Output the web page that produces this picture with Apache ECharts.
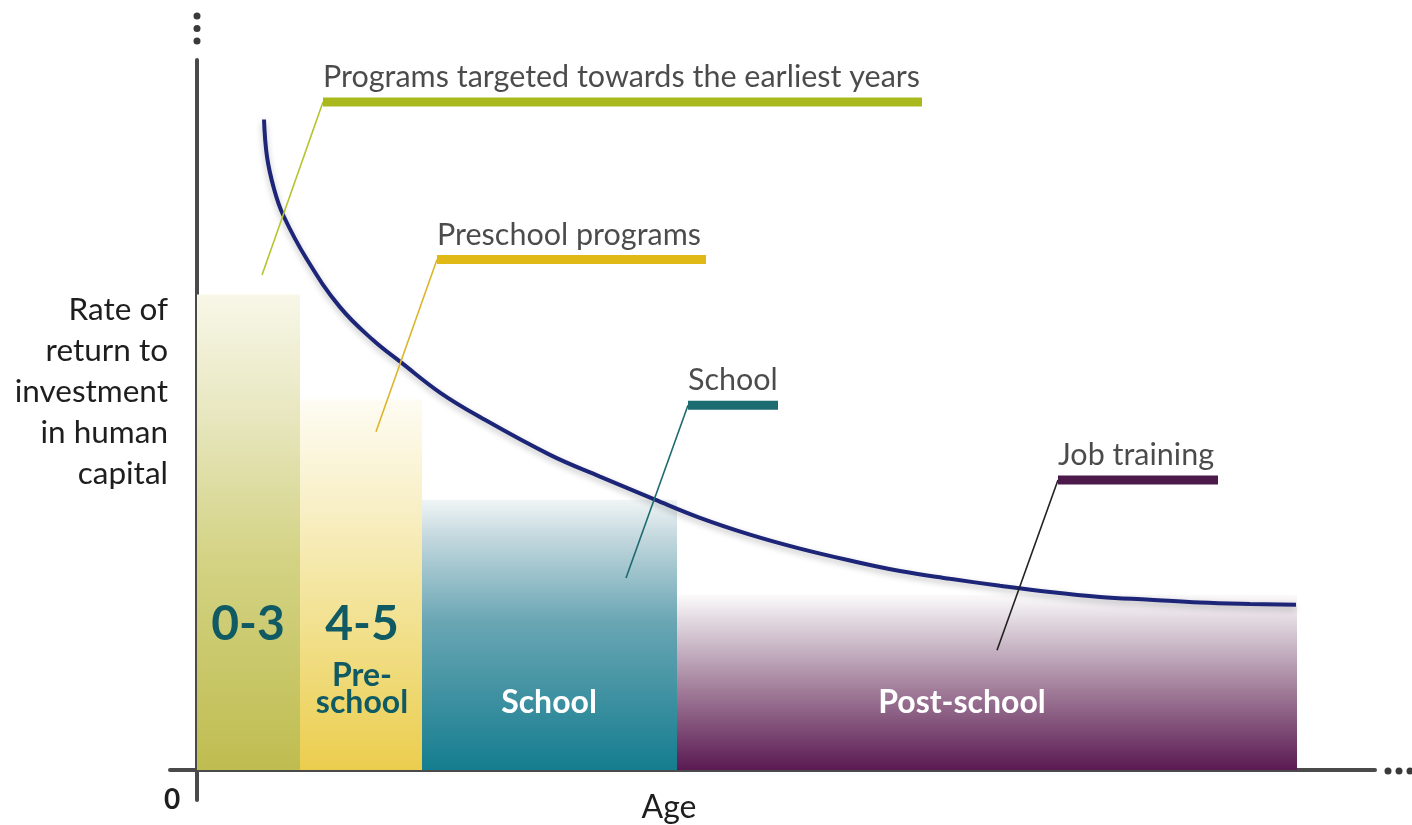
<!DOCTYPE html>
<html>
<head>
<meta charset="utf-8">
<script src="https://cdn.jsdelivr.net/npm/echarts@6/dist/echarts.min.js"></script>
<style>
  html, body { margin: 0; padding: 0; background: #fff; }
  #chart { width: 1412px; height: 825px; }
</style>
</head>
<body>
<div id="chart"></div>
<script>
// stages: [start age, end age, height]  (x unit = 10px, y unit = 7px)
const stageNames = ['0-3', '4-5', 'School', 'Post-school']
const stageStart = [0, 10.3, 22.5, 48]
const stageEnd = [10.3, 22.5, 48, 110]
const stageTop = [67.9, 52.9, 38.6, 25]
const stageBig = ['0-3', '4-5', '', '']
const stageSmall = ['', 'Pre-\nschool', 'School', 'Post-school']
const stageLabelX = [5.1, 16.5, 35.2, 76.5]

// return curve
const curveX = [6.7, 7.0, 7.7, 8.6, 11.0, 14.3, 17.6, 20.5, 24.3, 28.3, 35.3, 40.3, 45.8,
  50.3, 55.3, 60.3, 65.3, 70.3, 75.3, 80.3, 85.3, 90.3, 95.3, 100.3, 105.3, 109.9]
const curveY = [92.9, 87.6, 83.0, 79.3, 72.9, 66.1, 61.4, 58.1, 53.9, 50.4, 45.0, 41.9, 38.6,
  36.0, 33.6, 31.6, 29.9, 28.4, 27.3, 26.3, 25.4, 24.7, 24.3, 23.9, 23.7, 23.6]

// callouts
const calloutText = ['Programs targeted towards the earliest years', 'Preschool programs', 'School', 'Job training']
const calloutFoot = [[6.5, 70.7], [17.9, 48.3], [42.9, 27.4], [80, 17.1]]
const calloutElbow = [[12.6, 95.4], [24, 72.9], [49.1, 52.1], [86.1, 41.4]]
const calloutEndX = [72.5, 50.9, 58.1, 102.1]

const barStops = [
  [[0, '#f8f7e8'], [0.25, '#e8e7c0'], [0.55, '#d4d385'], [1, '#bfbd50']],
  [[0, '#fefcf3'], [0.3, '#f8efc4'], [0.65, '#f1df88'], [1, '#ebcd4e']],
  [[0, '#f0f5f6'], [0.15, '#c0d6dc'], [0.45, '#6aa6b4'], [1, '#147d8f']],
  [[0, '#fbfafb'], [0.2, '#d8ccd6'], [0.55, '#a07b98'], [1, '#5a1a52']]
]
const barTextColor = ['#0f5a63', '#0f5a63', '#ffffff', '#ffffff']
const lineColors = ['#a9b91c', '#e1b916', '#1b6b70', '#4b1a4a']
const diagColors = ['#b4c42c', '#dcb52a', '#1d6a70', '#222222']

const font = 'Lato, "Open Sans", sans-serif'

let myChart = echarts.init(document.getElementById('chart'), null, { renderer: 'canvas' })

const curveData = curveX.map((x, i) => [x, curveY[i]])
const stageData = stageNames.map((n, i) => [stageStart[i], stageEnd[i], stageTop[i], i])

function renderStage(params, api) {
  const i = api.value(3)
  const p0 = api.coord([api.value(0), api.value(2)])
  const p1 = api.coord([api.value(1), 0])
  const cx = api.coord([stageLabelX[i], 0])[0]
  const children = [{
    type: 'rect',
    shape: { x: p0[0], y: p0[1], width: p1[0] - p0[0], height: p1[1] - p0[1] },
    style: {
      fill: new echarts.graphic.LinearGradient(0, 0, 0, 1,
        barStops[i].map(s => ({ offset: s[0], color: s[1] })))
    }
  }]
  if (stageBig[i]) {
    children.push({
      type: 'text',
      style: {
        text: stageBig[i], x: cx, y: p1[1] - 145, align: 'center', verticalAlign: 'middle',
        font: 'bold 48px ' + font, fill: barTextColor[i]
      }
    })
  }
  if (stageSmall[i]) {
    children.push({
      type: 'text',
      style: {
        text: stageSmall[i], x: cx, y: p1[1] - 54, align: 'center', verticalAlign: 'bottom',
        font: 'bold 32px ' + font, lineHeight: 27, fill: barTextColor[i]
      }
    })
  }
  return { type: 'group', children: children }
}

const series = [{
  type: 'custom',
  renderItem: renderStage,
  data: stageData,
  z: 1
}]

calloutText.forEach((t, i) => {
  series.push({
    type: 'line',
    data: [calloutFoot[i], calloutElbow[i]],
    symbol: 'none',
    lineStyle: { color: diagColors[i], width: 1.6 },
    z: 4
  })
  series.push({
    type: 'line',
    data: [calloutElbow[i], [calloutEndX[i], calloutElbow[i][1]]],
    symbol: 'none',
    lineStyle: { color: lineColors[i], width: 9, cap: 'butt' },
    z: 4
  })
  series.push({
    type: 'scatter',
    data: [calloutElbow[i]],
    symbolSize: 0,
    silent: true,
    label: {
      show: true,
      position: 'top',
      align: 'left',
      distance: 9,
      formatter: t,
      fontFamily: font,
      fontSize: 30.5,
      color: '#1e1e1e'
    },
    z: 5
  })
})

series.push({
  type: 'line',
  data: curveData,
  smooth: 0.4,
  symbol: 'none',
  lineStyle: {
    color: '#1c2577', width: 4,
    shadowColor: 'rgba(0,0,0,0.25)', shadowBlur: 6, shadowOffsetY: 3
  },
  z: 3
})

myChart.setOption({
  animation: false,
  grid: { left: 170, right: 37, top: 60, bottom: 25 },
  xAxis: {
    type: 'value',
    min: -2.7,
    max: 117.8,
    axisLine: { onZero: true, lineStyle: { color: '#4a4a4a', width: 4 } },
    axisTick: { show: false },
    axisLabel: { show: false },
    splitLine: { show: false }
  },
  yAxis: {
    type: 'value',
    min: -4.3,
    max: 101.4,
    axisLine: { show: true, onZero: true, lineStyle: { color: '#4a4a4a', width: 4 } },
    axisTick: { show: false },
    axisLabel: { show: false },
    splitLine: { show: false }
  },
  graphic: [
    {
      type: 'text', style: {
        text: 'Rate of\nreturn to\ninvestment\nin human\ncapital', x: 168, y: 392,
        align: 'right', verticalAlign: 'middle', lineHeight: 41,
        font: '31.5px ' + font, fill: '#1e1e1e'
      }
    },
    { type: 'text', style: { text: 'Age', x: 669, y: 808, align: 'center', verticalAlign: 'middle', font: '32px ' + font, fill: '#1e1e1e' } },
    { type: 'text', style: { text: '0', x: 172, y: 800, align: 'center', verticalAlign: 'middle', font: 'bold 28px ' + font, fill: '#1e1e1e' } },
    { type: 'circle', shape: { cx: 197, cy: 16, r: 3.5 }, style: { fill: '#3a3a3a' } },
    { type: 'circle', shape: { cx: 197, cy: 28.5, r: 3.5 }, style: { fill: '#3a3a3a' } },
    { type: 'circle', shape: { cx: 197, cy: 41, r: 3.5 }, style: { fill: '#3a3a3a' } },
    { type: 'circle', shape: { cx: 1388, cy: 771, r: 3.5 }, style: { fill: '#3a3a3a' } },
    { type: 'circle', shape: { cx: 1399, cy: 771, r: 3.5 }, style: { fill: '#3a3a3a' } },
    { type: 'circle', shape: { cx: 1410, cy: 771, r: 3.5 }, style: { fill: '#3a3a3a' } }
  ],
  series: series
})

window.addEventListener('resize', () => {
  myChart.resize()
})
</script>
</body>
</html>
